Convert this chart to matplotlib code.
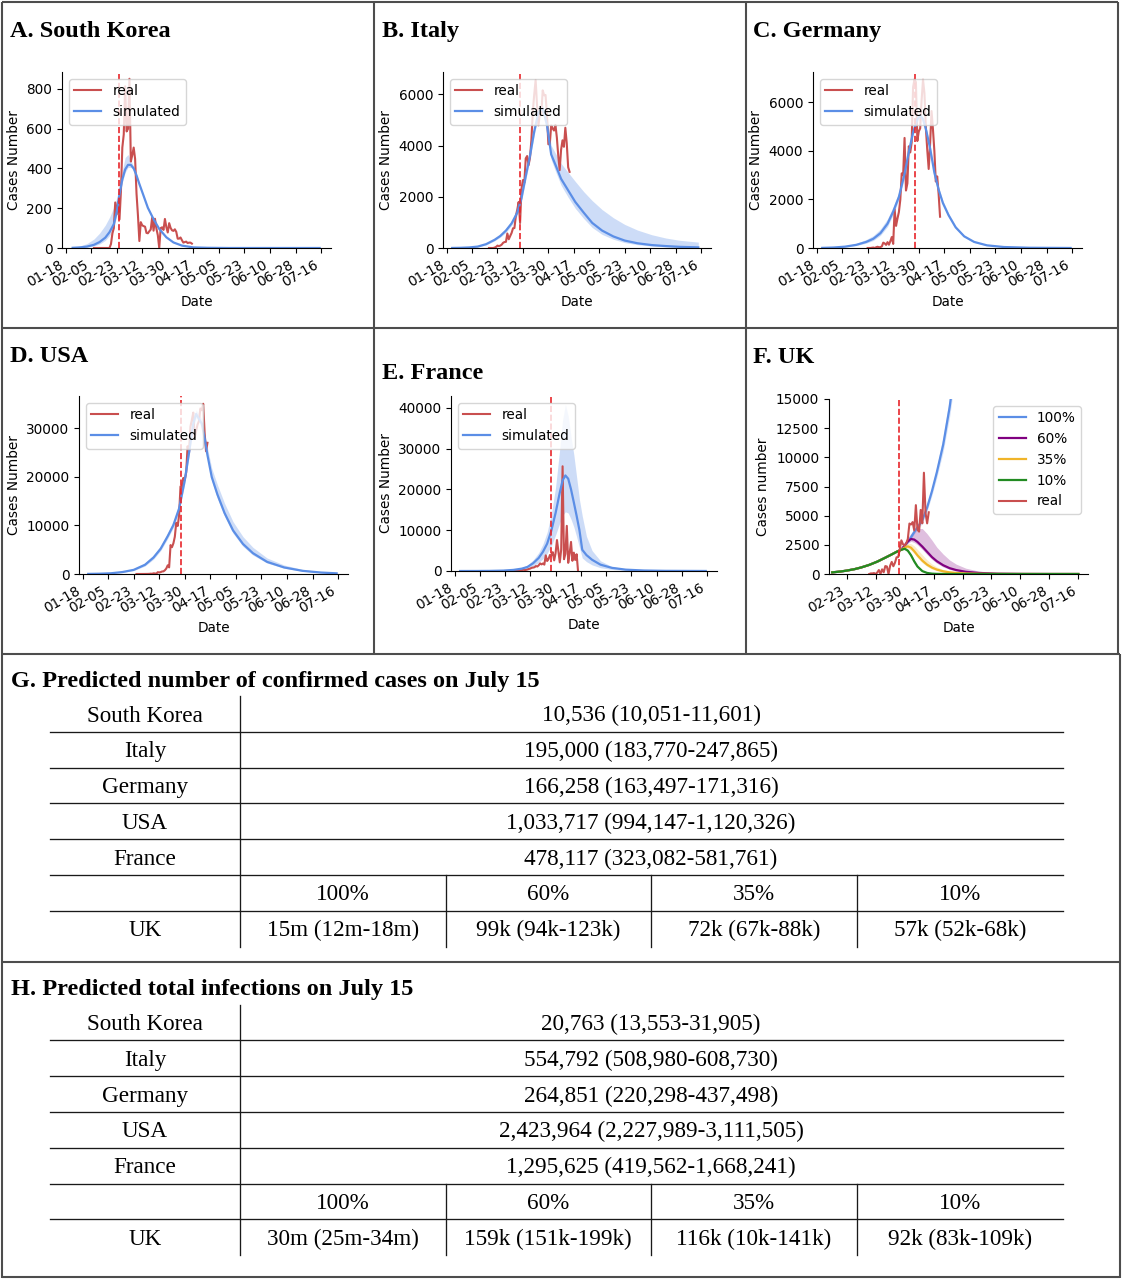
import numpy as np
import matplotlib.pyplot as plt

plt.rcParams['font.family'] = 'DejaVu Sans'
plt.rcParams['font.size'] = 9.8

W, H = 1123, 1280
SERIF = 'Liberation Serif'
BLUE = '#5b8ee6'
RED = '#c94f4f'
CUT = '#e8262b'

# day numbers count from 18 January 2020
date_labels = ['01-18', '02-05', '02-23', '03-12', '03-30', '04-17',
               '05-05', '05-23', '06-10', '06-28', '07-16']
date_ticks = list(range(0, 181, 18))

# ---- South Korea
kr_days = [5, 10, 15, 20, 24, 28, 31, 34, 36, 38, 40, 42, 44, 46, 48, 50, 52, 55, 58, 62,
           66, 71, 76, 82, 90, 100, 115, 140, 179]
kr_mid = [1, 3, 7, 16, 30, 52, 80, 120, 180, 270, 345, 395, 418, 418, 400, 365, 322, 262, 202, 145,
          96, 54, 28, 12, 3, 1, 0, 0, 0]
kr_hi = [3, 10, 22, 45, 75, 115, 155, 205, 250, 310, 390, 455, 470, 440, 410, 370, 325, 265, 205, 148,
         98, 56, 30, 13, 4, 1, 0, 0, 0]
kr_lo = [0, 1, 4, 10, 20, 38, 62, 100, 160, 250, 330, 380, 405, 405, 392, 358, 315, 255, 196, 140,
         92, 51, 26, 11, 3, 1, 0, 0, 0]
kr_real_start = 20
kr_real = [0, 0, 0, 0, 0, 0, 0, 0, 0, 0, 0,
           1, 20, 73, 100, 229, 169, 231, 144, 284, 505,
           571, 813, 586, 599, 851, 435, 467, 505, 448, 273,
           164, 35, 130, 114, 110, 107, 76, 74, 84, 93,
           152, 87, 147, 98, 64, 0, 100, 104, 91, 146,
           105, 78, 125, 101, 89, 86, 94, 81, 47, 47,
           53, 39, 27, 30, 32, 25, 27, 27, 22]
kr_cut = 37.6

# ---- Italy
it_days = [4, 10, 16, 22, 28, 34, 38, 42, 46, 50, 53, 56, 59, 62, 65, 68, 71, 74, 77, 81,
           86, 91, 97, 103, 110, 118, 126, 135, 145, 155, 165, 178]
it_mid = [2, 8, 22, 55, 150, 320, 470, 680, 960, 1380, 1950, 2800, 3600, 4550, 5300, 5450, 4800, 3650, 3250, 2700,
          2250, 1800, 1380, 980, 680, 450, 290, 185, 115, 75, 45, 25]
it_hi = [4, 12, 30, 70, 180, 370, 530, 760, 1060, 1500, 2100, 2950, 3750, 4700, 5450, 5600, 5100, 4000, 3700, 3300,
         2950, 2600, 2200, 1850, 1500, 1180, 920, 700, 520, 390, 300, 230]
it_lo = [1, 5, 16, 42, 120, 280, 420, 610, 880, 1280, 1820, 2650, 3450, 4400, 5150, 5300, 4600, 3450, 3000, 2450,
         1980, 1550, 1150, 800, 530, 340, 210, 130, 75, 45, 25, 12]
it_real_start = 30
it_real = [0, 0, 0, 0, 17, 42, 93, 74, 93, 131, 202, 233, 240, 566, 342, 466, 587, 769, 778, 1247,
           1492, 1797, 977, 2313, 2651, 2547, 3497, 3590, 3233, 3526, 4207, 5322, 5986, 6557, 5560, 4789,
           5249, 5210, 6153, 5959, 5974, 5217, 4050, 4053, 4782, 4668, 4585, 4805, 4316, 3599, 3039,
           3836, 4204, 3951, 4694, 4092, 3153, 2972]
it_cut = 51.6

# ---- Germany
de_days = [4, 12, 20, 28, 35, 40, 45, 50, 54, 58, 62, 65, 68, 71, 73, 75, 77, 80, 83, 86,
           89, 93, 98, 104, 111, 120, 132, 150, 179]
de_mid = [5, 20, 55, 130, 250, 380, 610, 1000, 1500, 2100, 3050, 3950, 4750, 5300, 5450, 5300, 4900, 4100, 3100, 2400,
          1850, 1350, 850, 480, 250, 110, 40, 10, 1]
de_hi = [8, 30, 85, 190, 350, 510, 780, 1200, 1700, 2300, 3250, 4100, 4850, 5400, 5550, 5400, 5000, 4200, 3200, 2500,
         1950, 1430, 910, 520, 275, 125, 46, 12, 2]
de_lo = [3, 14, 40, 100, 200, 310, 520, 880, 1380, 1980, 2900, 3820, 4650, 5200, 5350, 5200, 4800, 4000, 3000, 2300,
         1760, 1280, 800, 450, 230, 100, 36, 9, 1]
de_real_start = 36
de_real = [0, 0, 1, 10, 19, 2, 31, 51, 29, 37, 66, 220, 188, 129, 241, 136, 281, 451, 170, 1597,
           910, 1210, 1477, 1985, 3070, 2993, 4528, 2365, 2660, 4183, 3930, 4337, 6615, 6933, 6824, 4400,
           4790, 4923, 6064, 6922, 6365, 4933, 4031, 3251, 4289, 5633, 4885, 3990, 2737, 2946, 2218, 1287]
de_cut = 69.1

# ---- USA
us_days = [4, 12, 20, 28, 36, 44, 50, 55, 60, 64, 68, 72, 75, 78, 80, 82, 84, 86, 88, 91,
           95, 100, 106, 113, 120, 130, 142, 155, 168, 179]
us_mid = [20, 60, 150, 400, 850, 1900, 3400, 5200, 7800, 10100, 13500, 19300, 25000, 31000, 33000, 32000, 31000,
          28000, 24500, 20000, 16400, 12600, 9000, 6200, 4300, 2500, 1350, 650, 300, 140]
us_hi = [30, 85, 210, 530, 1100, 2300, 3900, 5800, 8500, 10900, 14400, 20300, 26000, 32000, 33800, 33000, 32000,
         29200, 26000, 21800, 18400, 14600, 10800, 7700, 5500, 3300, 1850, 950, 460, 230]
us_lo = [14, 45, 115, 320, 700, 1650, 3050, 4800, 7300, 9600, 12900, 18600, 24200, 30200, 32200, 31300, 30200,
         27200, 23700, 19200, 15600, 11900, 8400, 5700, 3900, 2250, 1200, 570, 260, 120]
us_real_start = 38
us_real = [0, 1, 2, 3, 5, 6, 9, 15, 20, 31, 68, 45, 140, 116, 65, 376, 322, 382, 516, 548,
           772, 1133, 1789, 1362, 5964, 5526, 6327, 7676, 10571, 9893, 12038, 18058, 17821, 19808,
           19444, 20922, 26341, 25070, 30380, 31745, 33283, 28152, 29515, 30804, 31533, 34126, 33755,
           35100, 29000, 25306, 27051]
us_cut = 69.3

# ---- France
fr_days = [4, 15, 25, 35, 42, 48, 52, 56, 60, 63, 66, 69, 72, 75, 77, 79, 81, 83, 85, 87,
           89, 91, 94, 98, 104, 112, 122, 135, 150, 179]
fr_mid = [0, 5, 25, 100, 270, 580, 1000, 1900, 3200, 4700, 6700, 9900, 14200, 19200, 22200, 23400, 22600, 20000,
          16800, 13500, 10000, 5200, 3900, 2750, 1550, 780, 330, 120, 40, 5]
fr_hi = [1, 10, 45, 170, 420, 850, 1450, 2700, 4500, 6600, 9500, 14000, 20500, 30000, 37000, 40800, 38000, 33000,
         28500, 23000, 17500, 13500, 8500, 5000, 2500, 1100, 500, 200, 70, 10]
fr_lo = [0, 2, 12, 55, 160, 370, 640, 1200, 2100, 3000, 4300, 6200, 8800, 11800, 13600, 14500, 14200, 12700,
         10800, 8400, 5800, 3200, 2300, 1500, 800, 380, 150, 50, 15, 1]
fr_real_start = 36
fr_real = [0, 0, 2, 4, 20, 19, 43, 30, 61, 21, 73, 138, 190, 336, 177, 286, 372, 497, 595, 785,
           838, 924, 1210, 1097, 1404, 1861, 1617, 1847, 1559, 3838, 2446, 2931, 3922, 3809, 4611, 2599,
           4376, 7578, 4861, 2116, 5233, 25646, 2886, 4200, 11059, 2000, 4286, 7120, 2500, 4500, 2700,
           4100, 0]
fr_cut = 68.5

# ---- UK scenarios (share of full reduction), common start then separate tails
uk_pre_days = [27, 32, 36, 41, 45, 50, 55, 60, 64, 67]
uk_pre = [140, 210, 290, 420, 560, 780, 1060, 1400, 1680, 1900]
uk_tail_days = [70, 72, 74, 76, 78, 80, 83, 86, 89, 92, 96, 100, 104, 110, 118, 130, 145, 160, 180]
uk_100 = [2100, 2400, 2750, 3150, 3600, 4000, 4600, 5700, 7100, 8700, 11100, 14300, 18500]
uk_100_hi = [2150, 2480, 2850, 3300, 3750, 4200, 4900, 6100, 7500, 9200, 11800, 15200, 19600]
uk_100_lo = [2050, 2330, 2650, 3000, 3450, 3800, 4350, 5400, 6750, 8250, 10500, 13500, 17400]
uk_60 = [2080, 2450, 2800, 3000, 2950, 2750, 2350, 1900, 1450, 1100, 750, 500, 340, 190, 90, 30, 8, 2, 0]
uk_60_hi = [2150, 2600, 3100, 3500, 3800, 3900, 3900, 3450, 2900, 2300, 1700, 1200, 850, 500, 250, 90, 25, 6, 0]
uk_60_lo = [2050, 2380, 2650, 2800, 2700, 2500, 2100, 1650, 1250, 920, 600, 390, 260, 140, 65, 20, 5, 1, 0]
uk_35 = [2080, 2280, 2370, 2250, 1950, 1600, 1150, 800, 550, 380, 230, 140, 90, 45, 20, 6, 2, 0, 0]
uk_35_hi = [2150, 2450, 2620, 2600, 2400, 2100, 1650, 1200, 850, 600, 380, 240, 150, 80, 35, 10, 3, 0, 0]
uk_35_lo = [2000, 2150, 2200, 2050, 1750, 1400, 960, 640, 420, 280, 160, 95, 60, 28, 12, 3, 1, 0, 0]
uk_10 = [2080, 2170, 2000, 1600, 1080, 640, 250, 90, 30, 10, 3, 1, 0, 0, 0, 0, 0, 0, 0]
uk_10_hi = [2120, 2250, 2120, 1750, 1220, 760, 320, 120, 42, 15, 5, 2, 0, 0, 0, 0, 0, 0, 0]
uk_10_lo = [2040, 2080, 1880, 1450, 950, 540, 200, 70, 22, 7, 2, 0, 0, 0, 0, 0, 0, 0, 0]
uk_real_start = 50
uk_real = [0, 50, 50, 80, 0, 130, 340, 0, 400, 150, 680, 640, 0, 710, 1035, 665, 967, 1430, 1450, 2130,
           2885, 2546, 2433, 2619, 3009, 4324, 4244, 4450, 3735, 5903, 3802, 3634, 5491, 4344, 8681, 5233,
           4342, 5288]
uk_cut = 68.7

# ---- tables
countries = ['South Korea', 'Italy', 'Germany', 'USA', 'France']
uk_levels = ['100%', '60%', '35%', '10%']
g_values = ['10,536 (10,051-11,601)', '195,000 (183,770-247,865)', '166,258 (163,497-171,316)',
            '1,033,717 (994,147-1,120,326)', '478,117 (323,082-581,761)']
g_uk = ['15m (12m-18m)', '99k (94k-123k)', '72k (67k-88k)', '57k (52k-68k)']
h_values = ['20,763 (13,553-31,905)', '554,792 (508,980-608,730)', '264,851 (220,298-437,498)',
            '2,423,964 (2,227,989-3,111,505)', '1,295,625 (419,562-1,668,241)']
h_uk = ['30m (25m-34m)', '159k (151k-199k)', '116k (10k-141k)', '92k (83k-109k)']


fig = plt.figure(figsize=(W / 100, H / 100), dpi=100)

# full-figure layer in pixel coordinates (y down) for frames, titles and tables
bg = fig.add_axes([0, 0, 1, 1])
bg.set_xlim(0, W)
bg.set_ylim(H, 0)
bg.axis('off')


def px_axes(l, t, r, b):
    return fig.add_axes([l / W, 1 - b / H, (r - l) / W, (b - t) / H], facecolor='none')


def finish(ax, ylim, yticks, ylabel='Cases Number', first=0):
    ax.set_ylim(*ylim)
    ax.set_yticks(yticks)
    ax.set_xticks(date_ticks[first:])
    ax.set_xticklabels(date_labels[first:], rotation=30, ha='right')
    ax.set_xlabel('Date')
    ax.set_ylabel(ylabel)
    for s in ['top', 'right']:
        ax.spines[s].set_visible(False)


def country(rect, days, mid, lo, hi, real_start, real, cut, ylim, yticks):
    ax = px_axes(*rect)
    ax.fill_between(days, lo, hi, color=BLUE, alpha=0.3, lw=0)
    ax.plot(real_start + np.arange(len(real)), real, color=RED, lw=1.5, label='real')
    ax.plot(days, mid, color=BLUE, lw=1.6, label='simulated')
    ax.axvline(cut, color=CUT, ls='--', lw=1.2)
    ax.set_xlim(-2.5, 187)
    finish(ax, ylim, yticks)
    ax.legend(loc='upper left', framealpha=0.8)
    return ax


country((62, 72, 331, 248), kr_days, kr_mid, kr_lo, kr_hi, kr_real_start, kr_real, kr_cut,
        (0, 885), [0, 200, 400, 600, 800])
country((443, 72, 711, 248), it_days, it_mid, it_lo, it_hi, it_real_start, it_real, it_cut,
        (0, 6870), [0, 2000, 4000, 6000])
country((813, 72, 1082, 248), de_days, de_mid, de_lo, de_hi, de_real_start, de_real, de_cut,
        (0, 7240), [0, 2000, 4000, 6000])
country((79, 396, 348, 574), us_days, us_mid, us_lo, us_hi, us_real_start, us_real, us_cut,
        (0, 36700), [0, 10000, 20000, 30000])
country((451, 396, 717, 571), fr_days, fr_mid, fr_lo, fr_hi, fr_real_start, fr_real, fr_cut,
        (0, 42860), [0, 10000, 20000, 30000, 40000])

# UK scenarios
axf = px_axes(829, 399, 1088, 574)
uk_series = [('100%', BLUE, uk_100, uk_100_lo, uk_100_hi),
             ('60%', 'purple', uk_60, uk_60_lo, uk_60_hi),
             ('35%', '#f0b429', uk_35, uk_35_lo, uk_35_hi),
             ('10%', '#228b22', uk_10, uk_10_lo, uk_10_hi)]
for name, col, mid, lo, hi in uk_series:
    td = uk_tail_days[:len(mid)]
    axf.fill_between(td, lo, hi, color=col, alpha=0.25, lw=0)
    axf.plot(uk_pre_days + td, uk_pre + mid, color=col, lw=1.6, label=name)
axf.plot(uk_real_start + np.arange(len(uk_real)), uk_real, color=RED, lw=1.5, label='real')
axf.axvline(uk_cut, color=CUT, ls='--', lw=1.2)
axf.set_xlim(25, 186)
finish(axf, (0, 15000), np.arange(0, 15001, 2500), ylabel='Cases number', first=2)
axf.legend(loc='upper right', framealpha=0.8)

# panel titles
titles = [(10, 37.3, 'A. South Korea'), (381.7, 37.3, 'B. Italy'), (753.3, 37.3, 'C. Germany'),
          (10, 362.3, 'D. USA'), (381.7, 378.7, 'E. France'), (753.3, 363, 'F. UK')]
for x, y, t in titles:
    bg.text(x, y, t, family=SERIF, weight='bold', fontsize=17.5, va='baseline', ha='left')

# panel frames
FRAME = '#4d4d4d'


def frame(xs, ys, lw=1.5):
    bg.plot(xs, ys, color=FRAME, lw=lw, solid_capstyle='butt')


frame([2, 1118], [2, 2])
frame([2, 2], [2, 1278])
frame([374, 374], [2, 654])
frame([745.5, 745.5], [2, 654])
frame([1118, 1118], [2, 654])
frame([2, 1118], [327.8, 327.8])
frame([2, 1120], [654, 654])
frame([1119.5, 1119.5], [654, 1278])
frame([2, 1120], [961.5, 961.5])
frame([2, 1120], [1277, 1277])

# tables G and H
col_edges = [240, 445.5, 651, 857, 1063]
uk_centers = [(col_edges[i] + col_edges[i + 1]) / 2 for i in range(4)]


def table(title, title_base, top, values, uk_values):
    bg.text(10.7, title_base, title, family=SERIF, weight='bold', fontsize=17.5, va='baseline')
    edges = top + 35.8 * np.arange(8)
    for y in edges[1:7]:
        bg.plot([50, 1063], [y, y], color='#1a1a1a', lw=0.95)
    bg.plot([240, 240], [edges[0], edges[7]], color='#1a1a1a', lw=0.95)
    for x in col_edges[1:4]:
        bg.plot([x, x], [edges[5], edges[7]], color='#1a1a1a', lw=0.95)
    base = (edges[:-1] + edges[1:]) / 2 + 7.6
    kw = dict(family=SERIF, fontsize=16.7, ha='center', va='baseline')
    for i, name in enumerate(countries):
        bg.text(145, base[i], name, **kw)
        bg.text(651, base[i], values[i], **kw)
    for j in range(4):
        bg.text(uk_centers[j], base[5], uk_levels[j], **kw)
        bg.text(uk_centers[j], base[6], uk_values[j], **kw)
    bg.text(145, base[6], 'UK', **kw)


table('G. Predicted number of confirmed cases on July 15', 687.3, 696, g_values, g_uk)
table('H. Predicted total infections on July 15', 995.5, 1004.5, h_values, h_uk)

fig.savefig('out.png', dpi=100)
